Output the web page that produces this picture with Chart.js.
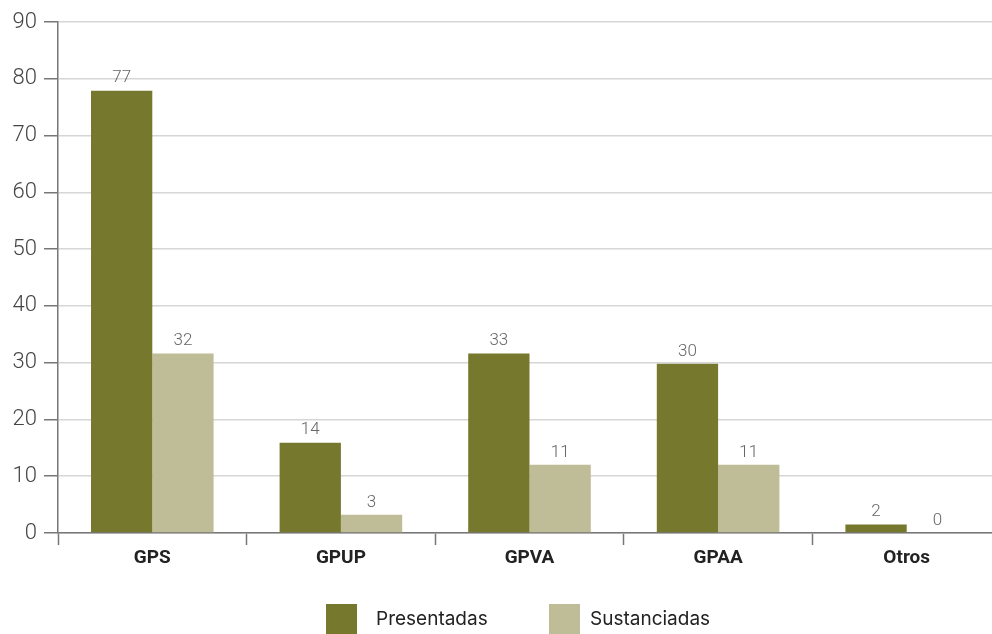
<!DOCTYPE html>
<html>
<head>
<meta charset="utf-8">
<script src="https://cdn.jsdelivr.net/npm/chart.js@4/dist/chart.umd.min.js"></script>
<style>
  html, body { margin: 0; padding: 0; background: #fff; overflow: hidden; }
  #wrap { width: 1002px; height: 634px; }
</style>
</head>
<body>
<div id="wrap"><canvas id="myChart" width="1002" height="634"></canvas></div>
<script>
// Chart data
const categories = ['GPS', 'GPUP', 'GPVA', 'GPAA', 'Otros'];
const presentadas = [77.9, 15.9, 31.6, 29.8, 1.5];
const sustanciadas = [31.6, 3.2, 12, 12, 0];
// numbers printed over the bars
const presentadasLabels = ['77', '14', '33', '30', '2'];
const sustanciadasLabels = ['32', '3', '11', '11', '0'];
const yTicks = [0, 10, 20, 30, 40, 50, 60, 70, 80, 90];

const green = '#76782d';
const beige = '#bfbc98';

// value labels above the bars
const valueLabels = {
    id: 'valueLabels',
    afterDatasetsDraw(chart) {
        const ctx = chart.ctx;
        const texts = [presentadasLabels, sustanciadasLabels];
        ctx.save();
        ctx.font = '300 17px Roboto';
        ctx.fillStyle = '#666';
        ctx.textAlign = 'center';
        ctx.textBaseline = 'bottom';
        chart.data.datasets.forEach((ds, i) => {
            chart.getDatasetMeta(i).data.forEach((bar, j) => {
                ctx.fillText(texts[i][j], bar.x, bar.y - 4);
            });
        });
        ctx.restore();
    }
};

// legend under the chart
const bottomLegend = {
    id: 'bottomLegend',
    afterDraw(chart) {
        const ctx = chart.ctx;
        const items = [
            { box: 326, tx: 376, text: 'Presentadas', color: green },
            { box: 549, tx: 590, text: 'Sustanciadas', color: beige }
        ];
        ctx.save();
        ctx.font = '19px Inter';
        ctx.textBaseline = 'middle';
        ctx.textAlign = 'left';
        items.forEach(it => {
            ctx.fillStyle = it.color;
            ctx.fillRect(it.box, 604, 31, 31);
            ctx.fillStyle = '#222';
            ctx.fillText(it.text, it.tx, 619);
        });
        ctx.restore();
    }
};

const ctx = document.getElementById('myChart').getContext('2d');
const myChart = new Chart(ctx, {
    type: 'bar',
    data: {
        labels: categories,
        datasets: [
            { label: 'Presentadas', data: presentadas, backgroundColor: green },
            { label: 'Sustanciadas', data: sustanciadas, backgroundColor: beige }
        ]
    },
    options: {
        responsive: false,
        animation: false,
        layout: { padding: { top: 22, right: 1, left: 0, bottom: 0 } },
        datasets: { bar: { categoryPercentage: 0.65, barPercentage: 1 } },
        plugins: {
            legend: { display: false },
            tooltip: { enabled: false }
        },
        scales: {
            x: {
                grid: {
                    offset: true,
                    drawOnChartArea: false,
                    drawTicks: true,
                    tickLength: 12,
                    tickColor: '#777',
                    tickWidth: 1.5
                },
                border: { color: '#777', width: 1.5 },
                ticks: {
                    color: '#222',
                    font: { family: 'Roboto', size: 19, weight: 'bold' },
                    padding: 2
                },
                afterFit(scale) { scale.height = 101; }
            },
            y: {
                min: 0,
                max: 90,
                afterBuildTicks(scale) { scale.ticks = yTicks.map(v => ({ value: v })); },
                grid: {
                    color: '#d6d6d6',
                    lineWidth: 1.5,
                    tickLength: 14,
                    tickColor: '#777',
                    tickWidth: 1.5
                },
                border: { color: '#777', width: 1.5 },
                ticks: {
                    color: '#444',
                    font: { family: 'Roboto', size: 22, weight: '300' },
                    padding: 7
                },
                afterFit(scale) { scale.width = 58; }
            }
        }
    },
    plugins: [valueLabels, bottomLegend]
});
</script>
</body>
</html>
